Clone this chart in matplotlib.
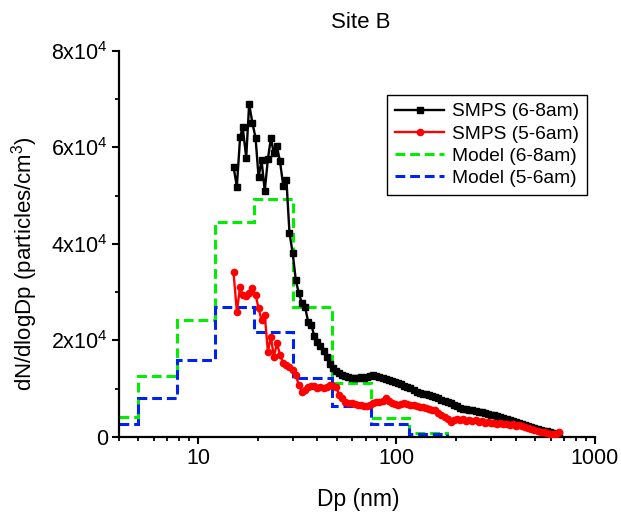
import matplotlib
matplotlib.use("Agg")
import matplotlib.pyplot as plt
from matplotlib import ticker

plt.rcParams['font.family'] = ['Liberation Sans', 'DejaVu Sans']
plt.rcParams['mathtext.default'] = 'regular'

# SMPS size bins (nm)
dp = [15.1, 15.7, 16.3, 16.8, 17.5, 18.1, 18.8, 19.5, 20.2, 20.9,
      21.7, 22.5, 23.3, 24.1, 25.0, 25.9, 26.9, 27.9, 28.9, 30.0,
      31.1, 32.2, 33.4, 34.6, 35.9, 37.2, 38.5, 40.0, 41.4, 42.9,
      44.5, 46.1, 47.8, 49.6, 51.4, 53.3, 55.2, 57.3, 59.4, 61.5,
      63.8, 66.1, 68.5, 71.0, 73.7, 76.4, 79.1, 82.0, 85.1, 88.2,
      91.4, 94.7, 98.2, 101.8, 105.5, 109.4, 113.4, 117.6, 121.9, 126.3,
      131.0, 135.8, 140.7, 145.9, 151.2, 156.8, 162.5, 168.5, 174.7, 181.1,
      187.7, 194.6, 201.7, 209.1, 216.7, 224.7, 232.9, 241.4, 250.3, 259.5,
      269.0, 278.8, 289.0, 299.6, 310.6, 322.0, 333.8, 346.0, 358.7, 371.8,
      385.4, 399.5, 414.2, 429.4, 445.1, 461.4, 478.3, 495.8, 514.0, 532.8,
      552.3, 572.5, 593.5, 615.3, 637.8, 661.2]

# SMPS (6-8am), units of 1e4 particles/cm3
smps_68 = [5.60, 5.19, 6.21, 6.42, 5.79, 6.90, 6.51, 6.20, 5.38, 5.74,
           5.10, 5.76, 6.19, 5.88, 6.02, 5.71, 5.20, 5.33, 4.23, 3.81,
           3.25, 2.98, 2.77, 2.70, 2.39, 2.33, 2.10, 1.97, 1.89, 1.79,
           1.65, 1.52, 1.43, 1.37, 1.32, 1.29, 1.26, 1.24, 1.22, 1.22,
           1.23, 1.24, 1.23, 1.25, 1.27, 1.29, 1.26, 1.25, 1.22, 1.21,
           1.18, 1.16, 1.13, 1.11, 1.09, 1.06, 1.04, 1.01, 0.98, 0.94,
           0.92, 0.90, 0.89, 0.87, 0.85, 0.82, 0.80, 0.77, 0.75, 0.72,
           0.70, 0.67, 0.64, 0.61, 0.59, 0.58, 0.56, 0.55, 0.54, 0.52,
           0.51, 0.49, 0.48, 0.46, 0.45, 0.43, 0.41, 0.39, 0.38, 0.36,
           0.34, 0.32, 0.29, 0.27, 0.24, 0.22, 0.20, 0.18, 0.16, 0.14,
           0.13, 0.12, 0.10, 0.09, 0.07, 0.06]

# SMPS (5-6am), units of 1e4 particles/cm3
smps_56 = [3.41, 2.60, 3.11, 2.94, 2.93, 2.99, 3.08, 2.94, 2.67, 2.42,
           2.53, 1.77, 2.08, 1.66, 1.94, 1.70, 1.53, 1.50, 1.46, 1.39,
           1.28, 1.08, 0.94, 0.97, 1.04, 1.06, 1.05, 1.02, 1.04, 1.02,
           1.04, 1.08, 1.05, 1.04, 0.88, 0.80, 0.72, 0.70, 0.70, 0.69,
           0.67, 0.66, 0.65, 0.64, 0.67, 0.70, 0.72, 0.73, 0.75, 0.80,
           0.75, 0.70, 0.68, 0.66, 0.68, 0.70, 0.68, 0.66, 0.66, 0.64,
           0.62, 0.63, 0.60, 0.57, 0.56, 0.55, 0.50, 0.46, 0.42, 0.37,
           0.32, 0.36, 0.38, 0.35, 0.37, 0.34, 0.36, 0.33, 0.35, 0.32,
           0.33, 0.30, 0.31, 0.28, 0.30, 0.27, 0.28, 0.26, 0.27, 0.24,
           0.26, 0.23, 0.24, 0.22, 0.20, 0.19, 0.17, 0.15, 0.13, 0.11,
           0.10, 0.08, 0.07, 0.06, 0.07, 0.10]

# Model bins (nm) and values (1e4 particles/cm3)
model_edges = [4.0, 5.0, 7.8, 12.2, 19.2, 30.0, 47.5, 74.5, 116.0, 180.0, 280.0, 435.0, 675.0]
model_68 = [0.42, 1.26, 2.42, 4.46, 4.93, 2.70, 1.11, 0.40, 0.077, 0.0, 0.0, 0.0]
model_56 = [0.27, 0.80, 1.60, 2.70, 2.18, 1.22, 0.64, 0.27, 0.06, 0.0, 0.0, 0.0]

scale = 1e4

fig = plt.figure(figsize=(6.21, 5.12), dpi=100)
ax = fig.add_axes([0.1916, 0.1465, 0.7665, 0.754])

dash = (3.2, 1.6)
ax.stairs([v * scale for v in model_68], model_edges, baseline=None,
          color='#00ee00', lw=2.2, linestyle=(0, dash), label='Model (6-8am)', zorder=2)
ax.stairs([v * scale for v in model_56], model_edges, baseline=None,
          color='#0022ee', lw=2.2, linestyle=(0, dash), label='Model (5-6am)', zorder=2)

ax.plot(dp, [v * scale for v in smps_68], color='black', lw=1.7, marker='s',
        ms=4.5, label='SMPS (6-8am)', zorder=3)
ax.plot(dp, [v * scale for v in smps_56], color='#ff0000', lw=1.7, marker='o',
        ms=4.5, label='SMPS (5-6am)', zorder=3)

ax.set_xscale('log')
ax.set_xlim(4, 1000)
ax.set_ylim(0, 8e4)

ax.set_xticks([10, 100, 1000])
ax.xaxis.set_major_formatter(ticker.FuncFormatter(lambda v, p: f'{v:g}'))
ax.xaxis.set_minor_locator(ticker.LogLocator(base=10, subs=range(2, 10), numticks=20))
ax.xaxis.set_minor_formatter(ticker.NullFormatter())

ax.set_yticks([0, 2e4, 4e4, 6e4, 8e4])
ax.yaxis.set_major_formatter(ticker.FuncFormatter(
    lambda v, p: '0' if v == 0 else f'{int(round(v / 1e4))}x10$^{{4}}$'))
ax.yaxis.set_minor_locator(ticker.MultipleLocator(1e4))

for s in ['top', 'right']:
    ax.spines[s].set_visible(False)
for s in ['left', 'bottom']:
    ax.spines[s].set_linewidth(1.6)

ax.tick_params(which='major', direction='out', length=5, width=1.5, labelsize=15.5, pad=3)
ax.tick_params(which='minor', direction='out', length=3, width=1.3)

ax.set_xlabel('Dp (nm)', fontsize=16.5, va='top')
ax.xaxis.set_label_coords(0.502, -0.133)
ax.set_ylabel('dN/dlogDp (particles/cm$^3$)', fontsize=16)
ax.yaxis.set_label_coords(-0.166, 0.45)
fig.text(361 / 621, 1 - 23 / 512, 'Site B', fontsize=16, ha='center', va='center')

h, l = ax.get_legend_handles_labels()
order = [2, 3, 0, 1]
leg = ax.legend([h[i] for i in order], [l[i] for i in order],
                loc='upper left', bbox_to_anchor=(0.563, 0.885), fontsize=13.8,
                frameon=True, fancybox=False, edgecolor='black', framealpha=1,
                handlelength=2.6, handletextpad=0.4, borderpad=0.4, labelspacing=0.25,
                borderaxespad=0, numpoints=1)
leg.get_frame().set_linewidth(1.0)

fig.savefig('out.png', dpi=100)
